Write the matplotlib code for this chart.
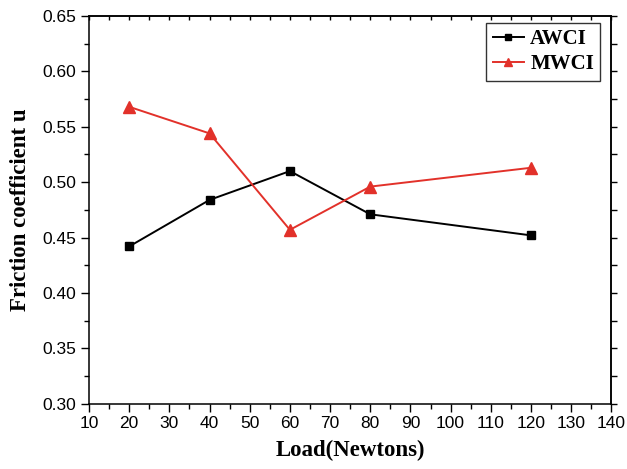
import matplotlib
matplotlib.use("Agg")
import matplotlib.pyplot as plt
from matplotlib.ticker import MultipleLocator, FormatStrFormatter, NullFormatter

load = [20, 40, 60, 80, 120]
awci = [0.442, 0.484, 0.510, 0.471, 0.452]
mwci = [0.568, 0.544, 0.457, 0.496, 0.513]

fig = plt.figure(figsize=(6.27, 4.69), dpi=100)
ax = fig.add_axes([0.142, 0.139, 0.833, 0.827])

ax.plot(load, awci, color="black", lw=1.4, marker="s", ms=6, label="AWCI")
ax.plot(load, mwci, color="#e2312a", lw=1.4, marker="^", ms=8, label="MWCI")

ax.set_xlim(10, 140)
ax.set_ylim(0.30, 0.65)
ax.xaxis.set_major_locator(MultipleLocator(10))
ax.xaxis.set_minor_locator(MultipleLocator(5))
ax.yaxis.set_major_locator(MultipleLocator(0.05))
ax.yaxis.set_minor_locator(MultipleLocator(0.025))
ax.yaxis.set_major_formatter(FormatStrFormatter("%.2f"))

tickfont = "Liberation Sans"
ax.tick_params(axis="both", which="major", direction="out", length=6, width=1,
               labelsize=12.5, pad=3)
ax.tick_params(axis="both", which="minor", direction="out", length=3.5, width=1)
for lab in ax.get_xticklabels() + ax.get_yticklabels():
    lab.set_fontfamily(tickfont)
for s in ax.spines.values():
    s.set_linewidth(1.1)

# top ticks (short, inward) and right ticks (short, outward)
top = ax.secondary_xaxis("top")
top.xaxis.set_major_locator(MultipleLocator(5))
top.xaxis.set_major_formatter(NullFormatter())
top.tick_params(axis="x", which="major", direction="in", length=3, width=1)
top.spines["top"].set_linewidth(1.1)
right = ax.secondary_yaxis("right")
right.yaxis.set_major_locator(MultipleLocator(0.025))
right.yaxis.set_major_formatter(NullFormatter())
right.tick_params(axis="y", which="major", direction="out", length=4, width=1)
right.spines["right"].set_linewidth(1.1)

ax.set_xlabel("Load(Newtons)", fontfamily="Liberation Serif", fontweight="bold",
              fontsize=16.5, labelpad=6)
ax.set_ylabel("Friction coefficient u", fontfamily="Liberation Serif",
              fontweight="bold", fontsize=16.5, labelpad=8)

leg = ax.legend(loc="upper right", prop={"family": "Liberation Serif", "weight": "bold", "size": 15},
                frameon=True, fancybox=False, edgecolor="black", handlelength=1.5,
                handletextpad=0.3, borderpad=0.3, labelspacing=0.25,
                borderaxespad=0, bbox_to_anchor=(0.979, 0.982), markerscale=0.8)
leg.get_frame().set_linewidth(1.0)

fig.savefig("out.png", dpi=100)
